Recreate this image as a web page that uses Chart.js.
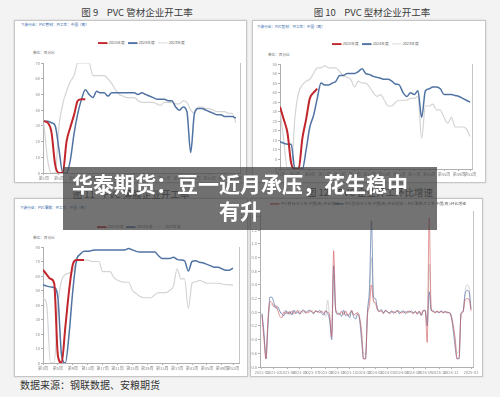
<!DOCTYPE html>
<html>
<head>
<meta charset="utf-8">
<script src="https://cdn.jsdelivr.net/npm/chart.js@4.4.1/dist/chart.umd.min.js"></script>
<style>
html, body { margin: 0; padding: 0; }
body { width: 500px; height: 397px; background: #f3f3f3; position: relative; overflow: hidden;
       font-family: "Noto Sans CJK SC", "Noto Sans", sans-serif; }
.panel { position: absolute; background: #fff; border: 1px solid #c6c6c6; box-sizing: border-box;
         box-shadow: 0 0 2px rgba(0,0,0,0.15); }
.title { position: absolute; font-size: 9.5px; line-height: 12px; color: #3c3c3c; white-space: pre;
         transform: translateX(-50%); }
.tiny { position: absolute; font-size: 10px; line-height: 10px; white-space: nowrap;
        transform: scale(0.36); transform-origin: 0 0; }
.lg { position: absolute; display: flex; align-items: center; font-size: 10px; line-height: 10px;
      white-space: nowrap; color: #666; transform: scale(0.38); transform-origin: 0 0; }
.lg i { display: inline-block; width: 25px; margin-right: 3px; }
canvas { position: absolute; }
.banner { position: absolute; left: 63px; top: 167px; width: 374px; height: 63px;
          background: rgba(66,66,66,0.74); z-index: 10; }
.btext { position: absolute; left: 40px; top: 170px; width: 400px; text-align: center; z-index: 11;
         color: #fff; font-size: 21px; line-height: 27px; font-weight: 700; }
.foot { position: absolute; left: 20px; top: 378px; font-size: 10px; line-height: 13px; color: #333; }
</style>
</head>
<body>

<div class="panel" style="left:14px;top:20px;width:233px;height:163px"></div>
<div class="panel" style="left:252px;top:20px;width:234px;height:163px"></div>
<div class="panel" style="left:14px;top:198px;width:234px;height:179px"></div>
<div class="panel" style="left:250px;top:198px;width:233px;height:179px"></div>

<div class="title" style="left:137px;top:6px">图 9    PVC 管材企业开工率</div>
<div class="title" style="left:372px;top:6px">图 10    PVC 型材企业开工率</div>
<div class="title" style="left:131px;top:188px">图 11    PVC 薄膜企业开工率</div>
<div class="title" style="left:370px;top:186px">图 12    PVC 企业开工环比增速</div>

<div class="tiny" style="left:21px;top:23px;color:#2b5ea8">下游行业：PVC管材：开工率：中国（周）</div>
<div class="tiny" style="left:257px;top:25px;color:#2b5ea8">下游行业：PVC型材：开工率：中国（周）</div>
<div class="tiny" style="left:20px;top:206px;color:#2b5ea8">下游行业：PVC薄膜：开工率：中国（周）</div>
<div class="tiny" style="left:33px;top:51px;color:#666">单位：百分比</div>
<div class="tiny" style="left:268px;top:53px;color:#666">单位：百分比</div>
<div class="tiny" style="left:33px;top:236px;color:#666">单位：百分比</div>

<canvas id="c1"></canvas>
<canvas id="c2"></canvas>
<canvas id="c3"></canvas>
<canvas id="c4"></canvas>

<div class="foot">数据来源：钢联数据、安粮期货</div>

<div class="banner"></div>
<div class="btext">华泰期货：豆一近月承压，花生稳中<br>有升</div>

<script>
// legend names
const yearNames = ['2025年度', '2024年度', '2023年度'];
const growthNames = ['PVC管材:开工率:中国(周):环比增速', 'PVC型材:开工率:中国(周):环比增速', 'PVC薄膜:开工率:中国(周):环比增速'];

// weekly x ticks (charts 9-11)
const weekTicks = [1, 5, 9, 13, 17, 21, 25, 29, 33, 37, 41, 45, 49, 52];
const weekTickLabels = ['第1周', '第5周', '第9周', '第13周', '第17周', '第21周', '第25周', '第29周',
                        '第33周', '第37周', '第41周', '第45周', '第49周', '第52周'];

// 图9 管材 (week 1..)
const pipe2025 = [33, 32, 26, 5, 0, 0, 20, 29, 37, 46, 47, 47];
const pipe2024 = [33, 33, 32, 30, 15, 0, 0, 8, 25, 38, 47, 53, 50, 48, 52, 51, 51, 49, 51, 51,
                  51, 51, 51, 51, 51, 50, 51, 50, 49, 48, 47, 47, 47, 46, 46, 42, 40, 42, 39, 13,
                  38, 41, 41, 40, 39, 38, 37, 37, 36, 36, 36, 35];
const pipe2023 = [31, 8, 0, 0, 30, 44, 52, 58, 62, 70, 70, 70, 70, 62, 62, 62, 62, 60, 57, 53,
                  50, 49, 48, 48, 48, 46, 45, 45, 45, 45, 44, 43, 45, 45, 45, 44, 44, 46, 45, 40,
                  38, 42, 42, 41, 41, 40, 39, 39, 39, 38, 38, 32];

// 图10 型材
const profile2025 = [32.6, 26, 19, 3, 0, 0, 16, 26, 37, 40, 42];
const profile2024 = [14.3, 13.5, 13, 13, 0, 0, 0, 10, 22, 28, 37, 45, 44, 44, 45, 46, 49, 49, 50, 50,
                     50, 51, 52.5, 50, 49.5, 48.5, 48, 47.5, 47, 47, 46, 44.5, 44, 40, 38, 40, 39, 41, 27, 41,
                     42, 43, 43, 42, 39, 39, 39, 38.5, 38, 37, 36, 35];
const profile2023 = [31, 15, 0, 0, 27, 40, 44, 46, 47, 50, 53, 53, 54, 53, 53, 53, 51, 49, 48, 47,
                     43, 46, 45, 45, 43, 40, 38, 39, 36, 33, 33, 35, 36, 36, 36, 37, 37, 38, 16, 33,
                     33, 34, 31, 31, 27, 24, 27, 22, 22, 22, 21, 17];

// 图11 薄膜
const film2025 = [64.3, 61, 58, 55, 5, 0, 25, 50, 68, 71, 71, 71];
const film2024 = [54, 53, 52.5, 52, 45, 5, 0, 20, 50, 71, 75, 77, 77, 77.5, 78, 78, 78, 78, 78, 78,
                  78, 78, 78, 79, 78, 77, 76.5, 76.5, 76.5, 76.5, 76.5, 74, 72, 72, 72, 73, 71.5, 71, 70.5, 63.5,
                  70, 70.5, 69.5, 69, 68, 67, 66, 66, 65, 64, 64, 65.5];
const film2023 = [45, 40, 0, 0, 40, 57, 61, 62, 63, 70, 71, 71, 71, 70, 70, 70, 63, 63, 63, 59,
                  57, 56, 55.7, 55.7, 50, 48, 46, 45, 45, 45, 47, 48.5, 48.5, 48.5, 50, 53, 65, 58, 58, 37.5,
                  55, 56, 57, 56, 55, 55, 55, 55, 54.5, 54, 54, 53.5];

// 图12 环比增速 (weekly, index 0..105)
const growthPipe = [-0.04, -0.4, -0.68, -0.1, 0.16, 0.14, 0.08, 0.1, 0.02, -0.06,
                    -0.08, 0, -0.02, 0.01, -0.03, 0.02, -0.02, 0, 0.03, -0.02,
                    0.01, 0.02, 0, -0.01, 0.02, 0.01, -0.01, 0.02, 0.01, 0,
                    0.01, -0.02, 0.02, 0, -0.04, -0.36, 0.9, 0.05, -0.02, -0.03,
                    0.01, -0.04, 0.02, -0.05, -0.02, 0.03, -0.04, -0.02, -0.01, -0.08,
                    -0.3, -0.68, -0.68, -0.05, 0.1, 0.4, 0.16, 0.14, 0.03, 0.01,
                    0.02, -0.01, 0.02, 0.01, -0.02, 0, 0.01, -0.01, 0.02, 0.01,
                    -0.01, 0, 0.01, -0.01, 0.02, 0, -0.02, 0.01, -0.03, 0.02,
                    -0.04, 0.03, 0.02, -0.44, 1.38, 0.05, 0.01, -0.01, 0.02, 0,
                    0.01, -0.01, 0.01, 0, -0.01, -0.06, -0.2, -0.4, -0.68, -0.66,
                    -0.02, 0, 0.18, 0.2, 0.19, 0.02];
const growthProfile = [-0.02, -0.3, -0.68, -0.2, 0.22, 0.22, 0.14, 0.06, 0.08, 0.01,
                       -0.03, -0.05, 0.02, -0.03, 0.01, -0.04, 0.03, -0.02, 0.01, -0.03,
                       0.02, 0.03, -0.01, 0.02, 0.03, 0, -0.02, 0.02, 0, 0.03,
                       -0.02, -0.04, 0.02, -0.02, -0.12, -0.4, 0.68, 0.03, -0.03, -0.02,
                       -0.06, 0.03, -0.05, -0.03, -0.08, 0.02, -0.06, -0.1, -0.03, -0.1,
                       -0.4, -0.68, -0.68, 0, 0.36, 1.34, 0.22, 0.2, 0.06, 0.02,
                       0.04, -0.02, 0.03, 0.01, -0.01, 0.02, -0.01, 0, 0.03, -0.02,
                       0.01, 0.02, -0.02, 0.01, 0, 0.02, -0.01, 0.01, -0.02, 0.01,
                       -0.05, 0.02, 0.03, -0.2, 0.3, 0.03, 0.02, 0, 0.01, -0.01,
                       0.02, 0, 0.01, -0.01, 0, -0.05, -0.24, -0.5, -0.68, -0.68,
                       -0.03, 0.01, 0.26, 0.32, 0.3, 0.05];
const growthFilm = [-0.03, -0.35, -0.6, -0.15, 0.1, 0.12, 0.1, 0.05, 0.04, 0.02,
                    -0.02, 0.01, 0.03, -0.02, 0.02, -0.03, 0.02, 0.01, -0.01, 0.02,
                    0.01, -0.02, 0.02, 0.01, 0, 0.03, -0.01, 0.02, 0.01, -0.01,
                    0.02, 0, -0.06, 0.18, -0.1, -0.3, 0.55, 0.04, 0, -0.01,
                    0.02, -0.02, 0.01, -0.02, -0.04, 0.01, -0.02, -0.05, 0, -0.06,
                    -0.25, -0.6, -0.62, 0.02, 0.2, 0.8, 0.18, 0.12, 0.04, 0.01,
                    0.02, 0, 0.02, 0, -0.01, 0.01, 0, 0.01, 0.02, -0.01,
                    0, 0.01, -0.01, 0.02, 0.01, 0, -0.01, 0.02, -0.01, 0.01,
                    -0.02, 0.02, 0.01, -0.12, 0.7, 0.02, 0.01, 0, 0.01, 0,
                    0.02, -0.01, 0, 0.01, -0.01, -0.04, -0.15, -0.35, -0.6, -0.55,
                    0, 0.02, 0.3, 0.4, 0.36, 0.04];
const growthTicks = [0, 6, 13, 19, 25, 32, 38, 44, 51, 57, 63, 70, 76, 82, 89, 95, 105];
const growthTickLabels = ['2023-01', '2023-02', '2023-04', '2023-05', '2023-07', '2023-08', '2023-10', '2023-11',
                          '2024-02', '2024-03', '2024-05', '2024-06', '2024-08', '2024-09', '2024-10', '2024-12', '2025-03'];

const RED = '#c0262c';
const BLUE = '#5073a3';
const GRAY = '#d4d4d4';

function weekPoints(vals) {
    return vals.map((v, i) => ({ x: i + 1, y: v }));
}
function indexPoints(vals) {
    return vals.map((v, i) => ({ x: i, y: v }));
}

// thin line on the right edge of the plot
const rightEdge = {
    id: 'rightEdge',
    afterDraw(chart) {
        const { ctx, chartArea: a } = chart;
        const x = Math.round(a.right) + 0.5;
        ctx.save();
        ctx.strokeStyle = '#c4c4c4';
        ctx.lineWidth = 1;
        ctx.beginPath();
        ctx.moveTo(x, a.top);
        ctx.lineTo(x, a.bottom);
        ctx.stroke();
        ctx.restore();
    }
};

function addLegend(x, y, pitch, names, colors, heights) {
    names.forEach((name, k) => {
        const d = document.createElement('div');
        d.className = 'lg';
        d.style.left = (x + k * pitch) + 'px';
        d.style.top = (y - 2) + 'px';
        d.innerHTML = '<i style="background:' + colors[k] + ';height:' + heights[k] + 'px"></i><span>' + name + '</span>';
        document.body.appendChild(d);
    });
}

function makeChart(id, plot, xCfg, yCfg, datasets) {
    const m = { l: 16, t: 5, r: 9, b: 10 };
    const cv = document.getElementById(id);
    cv.width = plot.right - plot.left + m.l + m.r;
    cv.height = plot.bottom - plot.top + m.t + m.b;
    cv.style.left = (plot.left - m.l) + 'px';
    cv.style.top = (plot.top - m.t) + 'px';

    const tickFont = { family: 'Noto Sans CJK SC', size: 4 };
    return new Chart(cv, {
        type: 'line',
        data: { datasets: datasets },
        options: {
            responsive: false,
            animation: false,
            layout: { padding: { left: 0, top: m.t, right: m.r, bottom: 0 } },
            plugins: { legend: { display: false }, tooltip: { enabled: false } },
            elements: { point: { radius: 0 }, line: { borderJoinStyle: 'round', cubicInterpolationMode: 'monotone', tension: 0.3 } },
            scales: {
                x: {
                    type: 'linear',
                    min: xCfg.min,
                    max: xCfg.max,
                    afterFit: (s) => { s.height = m.b; },
                    afterBuildTicks: (s) => { s.ticks = xCfg.ticks.map(v => ({ value: v })); },
                    grid: { drawOnChartArea: false, tickLength: 2, color: '#b0b0b0' },
                    border: { color: '#b0b0b0' },
                    ticks: {
                        autoSkip: false, maxRotation: 0, minRotation: 0, padding: 1,
                        font: tickFont, color: '#8c8c8c',
                        callback: (v) => xCfg.labels[xCfg.ticks.indexOf(v)]
                    }
                },
                y: {
                    min: yCfg.min,
                    max: yCfg.max,
                    afterFit: (s) => { s.width = m.l; },
                    grid: { drawOnChartArea: false, tickLength: 2, color: '#b0b0b0' },
                    border: { color: '#b0b0b0' },
                    ticks: {
                        stepSize: yCfg.step, includeBounds: false, padding: 1,
                        font: tickFont, color: '#8c8c8c',
                        callback: yCfg.fmt || ((v) => v)
                    }
                }
            }
        },
        plugins: [rightEdge]
    });
}

function yearSets(a2025, a2024, a2023) {
    return [
        { data: weekPoints(a2025), borderColor: RED, borderWidth: 2 },
        { data: weekPoints(a2024), borderColor: BLUE, borderWidth: 1.5 },
        { data: weekPoints(a2023), borderColor: GRAY, borderWidth: 1.2 }
    ];
}

const weekX = { ticks: weekTicks, labels: weekTickLabels };

makeChart('c1', { left: 43, top: 63, right: 240, bottom: 173 },
    Object.assign({ min: 0.75, max: 53.1 }, weekX),
    { min: 0, max: 70, step: 10 },
    yearSets(pipe2025, pipe2024, pipe2023));

makeChart('c2', { left: 280, top: 64, right: 472, bottom: 169 },
    Object.assign({ min: 1, max: 52.5 }, weekX),
    { min: 0, max: 55, step: 5 },
    yearSets(profile2025, profile2024, profile2023));

makeChart('c3', { left: 43, top: 247, right: 239, bottom: 363 },
    Object.assign({ min: 1, max: 53.6 }, weekX),
    { min: 0, max: 80, step: 10 },
    yearSets(film2025, film2024, film2023));

makeChart('c4', { left: 260, top: 211, right: 473, bottom: 367 },
    { min: -1, max: 106, ticks: growthTicks, labels: growthTickLabels },
    { min: -0.8, max: 1.48, step: 0.2, fmt: (v) => v.toFixed(1) },
    [
        { data: indexPoints(growthPipe), borderColor: 'rgba(210,90,95,0.7)', borderWidth: 0.9, tension: 0.2 },
        { data: indexPoints(growthProfile), borderColor: 'rgba(80,110,165,0.75)', borderWidth: 0.9, tension: 0.2 },
        { data: indexPoints(growthFilm), borderColor: 'rgba(195,195,195,0.85)', borderWidth: 0.8, tension: 0.2 }
    ]);

const legendColors = [RED, BLUE, '#cfcfcf'];
const legendHeights = [5, 5, 2.5];
addLegend(98, 43, 30, yearNames, legendColors, legendHeights);
addLegend(332, 44, 30, yearNames, legendColors, legendHeights);
addLegend(97, 227, 28.5, yearNames, legendColors, legendHeights);
addLegend(270, 204, 63.5, growthNames, ['#d05a5e', '#5073a3', '#cfcfcf'], [4, 4, 2.5]);
</script>
</body>
</html>
